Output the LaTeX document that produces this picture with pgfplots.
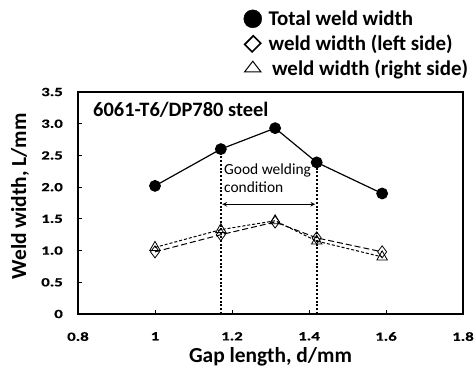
\documentclass[border=0pt]{standalone}
\usepackage{fontspec}
\setmainfont{Carlito}
\newfontfamily\tickfont[FakeStretch=1.35,FakeBold=0.6]{Carlito}
\usepackage{pgfplots}
\pgfplotsset{compat=1.18}
\begin{document}
\begin{tikzpicture}
\begin{axis}[
  at={(0,0)}, anchor=south west,
  scale only axis, width=385bp, height=222bp,
  xmin=0.8, xmax=1.8, ymin=0, ymax=3.5,
  xtick={0.8,1,1.2,1.4,1.6,1.8}, xticklabels={0.8,1,1.2,1.4,1.6,1.8},
  ytick={0,0.5,1,1.5,2,2.5,3,3.5}, yticklabels={0,0.5,1.0,1.5,2.0,2.5,3.0,3.5},
  tick align=inside, tick style={black, line width=0.8pt}, major tick length=4bp,
  axis line style={line width=1.2pt},
  xtick pos=bottom, ytick pos=left,
  ticklabel style={font=\tickfont\fontsize{12.5}{14}\selectfont\bfseries, inner sep=0pt},
  xticklabel style={anchor=north, yshift=-18bp},
  yticklabel style={anchor=east, xshift=-15bp},
  /pgf/number format/assume math mode=true,
  xlabel={Gap length, d/mm}, ylabel={Weld width, L/mm},
  label style={font=\fontsize{21.5}{24}\selectfont\bfseries},
  xlabel style={at={(axis description cs:0.5,-0.1937)}, anchor=center},
  ylabel style={at={(axis description cs:-0.1506,0.53)}, anchor=center, rotate=0},
  clip=false,
  legend style={at={(0.428,1.371)}, anchor=north west, draw=none, fill=none,
    font=\fontsize{21}{25}\selectfont\bfseries, row sep=7.5bp, inner sep=0pt,
    nodes={inner sep=0pt},
    legend cell align=left},
  legend image code/.code={\draw[#1] plot coordinates {(9bp,0bp)}; \path (0bp,0bp) (24bp,0bp);},
]
\addlegendimage{only marks, mark=*, mark size=9bp, black}
\addlegendentry{Total weld width}
\addlegendimage{only marks, mark=square, mark size=5.3bp, black, line width=1.6pt, mark options={rotate=45, xscale=1.15}}
\addlegendentry{weld width (left side)}
\addlegendimage{only marks, mark=triangle, mark size=9.5bp, black, line width=1pt, mark options={yscale=0.75}}
\addlegendentry{\,weld width (right side)}

% vertical dotted lines
\addplot[forget plot, black, line width=2pt, dash pattern=on 2bp off 1.8bp] coordinates {(1.171,0) (1.171,2.60)};
\addplot[forget plot, black, line width=2pt, dash pattern=on 2bp off 1.8bp] coordinates {(1.42,0) (1.42,2.39)};
\addplot[forget plot, black, line width=1.1pt, <->, >=stealth] coordinates {(1.175,1.73) (1.416,1.73)};

\addplot[forget plot, black, line width=1pt, dash pattern=on 6bp off 3bp, mark=diamond, mark size=6bp, mark options={solid, line width=0.8pt}]
 coordinates {(1.0,0.98) (1.171,1.25) (1.312,1.45) (1.42,1.20) (1.59,0.98)};
\addplot[forget plot, black, line width=1pt, dash pattern=on 3bp off 2bp, mark=triangle, mark size=6bp, mark options={solid, line width=0.8pt}]
 coordinates {(1.0,1.05) (1.171,1.33) (1.312,1.47) (1.42,1.15) (1.59,0.90)};
\addplot[forget plot, black, line width=1.2pt, mark=*, mark size=5.3bp]
 coordinates {(1.0,2.02) (1.171,2.60) (1.312,2.93) (1.42,2.39) (1.59,1.90)};

\node[anchor=west, inner sep=0pt, font=\fontsize{20.5}{24}\selectfont\bfseries] at (axis cs:0.839,3.216) {6061-T6/DP780 steel};
\node[anchor=west, font=\fontsize{15.5}{18}\selectfont, align=left, fill=white, inner sep=1bp] at (axis cs:1.1766,2.144) {Good welding\\condition};
\end{axis}
\pgfresetboundingbox
\path (-78bp,-60bp) rectangle (396bp,314bp);
\end{tikzpicture}
\end{document}
